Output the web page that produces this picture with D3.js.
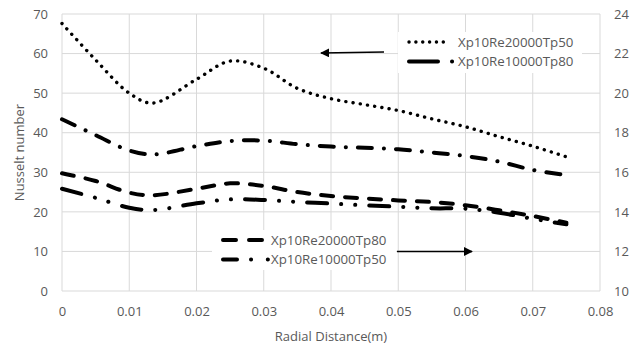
<!DOCTYPE html>
<html>
<head>
<meta charset="utf-8">
<script src="https://cdn.jsdelivr.net/npm/d3@7"></script>
<style>
body { margin: 0; background: #fff; }
text { font-family: "Open Sans", sans-serif; fill: #595959; }
</style>
</head>
<body>
<div class="visual"></div>
<script>
'use strict';
// radial positions (m)
let xs = [0, 0.005, 0.01, 0.0135, 0.02, 0.025, 0.03, 0.035, 0.04, 0.045, 0.05, 0.055, 0.06, 0.065, 0.07, 0.075];
// left axis series
let re20000tp50 = [67.6, 58.4, 50.0, 47.5, 53.5, 58.1, 56.3, 51.2, 48.6, 47.1, 45.6, 43.5, 41.5, 39.0, 36.6, 33.9];
let re10000tp80 = [43.4, 39.4, 35.5, 34.5, 36.6, 37.9, 38.0, 37.1, 36.5, 36.2, 35.8, 35.0, 34.1, 32.7, 30.6, 29.3];
// right axis series
let re20000tp80 = [15.95, 15.56, 14.97, 14.84, 15.17, 15.44, 15.31, 15.0, 14.8, 14.68, 14.58, 14.5, 14.33, 14.08, 13.79, 13.45];
let re10000tp50 = [15.17, 14.71, 14.21, 14.09, 14.43, 14.63, 14.6, 14.5, 14.42, 14.33, 14.26, 14.18, 14.16, 13.96, 13.65, 13.37];

let xTicks = [0, 0.01, 0.02, 0.03, 0.04, 0.05, 0.06, 0.07, 0.08];
let leftTicks = [0, 10, 20, 30, 40, 50, 60, 70];
let rightTicks = [10, 12, 14, 16, 18, 20, 22, 24];

let width = 636, height = 346;
let margin = {left: 62, right: 36, top: 14, bottom: 55};

let svg = d3.select(".visual").append("svg").attr("width", width).attr("height", height);

let x = d3.scaleLinear().domain([0, 0.08]).range([margin.left, width - margin.right]);
let yL = d3.scaleLinear().domain([0, 70]).range([height - margin.bottom, margin.top]);
let yR = d3.scaleLinear().domain([10, 24]).range([height - margin.bottom, margin.top]);

// grid
svg.append("g").selectAll("line").data(leftTicks).enter().append("line")
    .attr("x1", x(0)).attr("x2", x(0.08))
    .attr("y1", d => yL(d)).attr("y2", d => yL(d))
    .attr("stroke", "#d9d9d9").attr("stroke-width", 1);
svg.append("g").selectAll("line").data(xTicks).enter().append("line")
    .attr("x1", d => x(d)).attr("x2", d => x(d))
    .attr("y1", yL(0)).attr("y2", yL(70))
    .attr("stroke", "#d9d9d9").attr("stroke-width", 1);

// axes (labels only)
let axL = svg.append("g").attr("transform", "translate(" + (x(0) - 6) + ",0)")
    .call(d3.axisLeft(yL).tickValues(leftTicks).tickSize(0).tickPadding(8));
let axR = svg.append("g").attr("transform", "translate(" + (x(0.08) + 6) + ",0)")
    .call(d3.axisRight(yR).tickValues(rightTicks).tickSize(0).tickPadding(8));
let axB = svg.append("g").attr("transform", "translate(0," + (yL(0) + 12) + ")")
    .call(d3.axisBottom(x).tickValues(xTicks).tickFormat(d => d === 0 ? "0" : d3.format(".2f")(d)).tickSize(0).tickPadding(4));
[axL, axR, axB].forEach(a => {
    a.select(".domain").remove();
    a.selectAll("text").style("font-size", "13px").style("fill", "#595959").style("font-family", "Open Sans");
});
axL.selectAll("text").attr("x", -8);
axR.selectAll("text").attr("x", 8);

svg.append("text").attr("transform", "translate(24," + yL(35) + ") rotate(-90)")
    .attr("text-anchor", "middle").style("font-size", "13px").text("Nusselt number");
svg.append("text").attr("x", (x(0) + x(0.08)) / 2).attr("y", 341)
    .attr("text-anchor", "middle").style("font-size", "13px").text("Radial Distance(m)");

// series
let series = [
    {vals: re20000tp50, scale: yL, dash: "0.1 7.2", w: 3.4},
    {vals: re10000tp80, scale: yL, dash: "14 12 0.1 12", w: 4},
    {vals: re20000tp80, scale: yR, dash: "12 12", w: 4},
    {vals: re10000tp50, scale: yR, dash: "20 14 0.1 14 0.1 14", w: 4}
];
series.forEach(s => {
    let line = d3.line().x((d, i) => x(xs[i])).y(d => s.scale(d)).curve(d3.curveCatmullRom.alpha(0.5));
    svg.append("path").datum(s.vals).attr("d", line)
        .attr("fill", "none").attr("stroke", "#000").attr("stroke-width", s.w)
        .attr("stroke-linecap", "round").attr("stroke-dasharray", s.dash);
});

// legends
let drawLegend = (bx, by, bw, bh, tx, rows) => {
    svg.append("rect").attr("x", bx).attr("y", by).attr("width", bw).attr("height", bh).attr("fill", "#fff");
    rows.forEach((r, i) => {
        let yy = by + 10 + i * 19.5;
        svg.append("line").attr("x1", r.x1).attr("x2", r.x2).attr("y1", yy).attr("y2", yy)
            .attr("stroke", "#000").attr("stroke-width", r.w).attr("stroke-linecap", "round")
            .attr("stroke-dasharray", r.dash);
        svg.append("text").attr("x", tx).attr("y", yy + 4.7).style("font-size", "13.3px").text(r.name);
    });
};
drawLegend(398, 32, 184, 41, 458, [
    {name: "Xp10Re20000Tp50", dash: "0.1 6.75", w: 3.4, x1: 409, x2: 450},
    {name: "Xp10Re10000Tp80", dash: "29 14 0.1 40", w: 4, x1: 409, x2: 453}
]);
drawLegend(212, 230, 184, 40, 271, [
    {name: "Xp10Re20000Tp80", dash: "13 13 13 30", w: 4, x1: 223, x2: 262},
    {name: "Xp10Re10000Tp50", dash: "14 14 0.1 16.7 0.1 10", w: 4, x1: 223, x2: 268}
]);

// arrows
svg.append("defs").append("marker").attr("id", "arr").attr("viewBox", "0 0 10 10")
    .attr("refX", 9).attr("refY", 5).attr("markerWidth", 7).attr("markerHeight", 7)
    .attr("orient", "auto").append("path").attr("d", "M0,0L10,5L0,10z").attr("fill", "#000");
svg.append("line").attr("x1", 384).attr("y1", 52).attr("x2", 321).attr("y2", 53)
    .attr("stroke", "#000").attr("stroke-width", 1.3).attr("marker-end", "url(#arr)");
svg.append("line").attr("x1", 397).attr("y1", 251.5).attr("x2", 472).attr("y2", 251.5)
    .attr("stroke", "#000").attr("stroke-width", 1.3).attr("marker-end", "url(#arr)");
</script>
</body>
</html>
